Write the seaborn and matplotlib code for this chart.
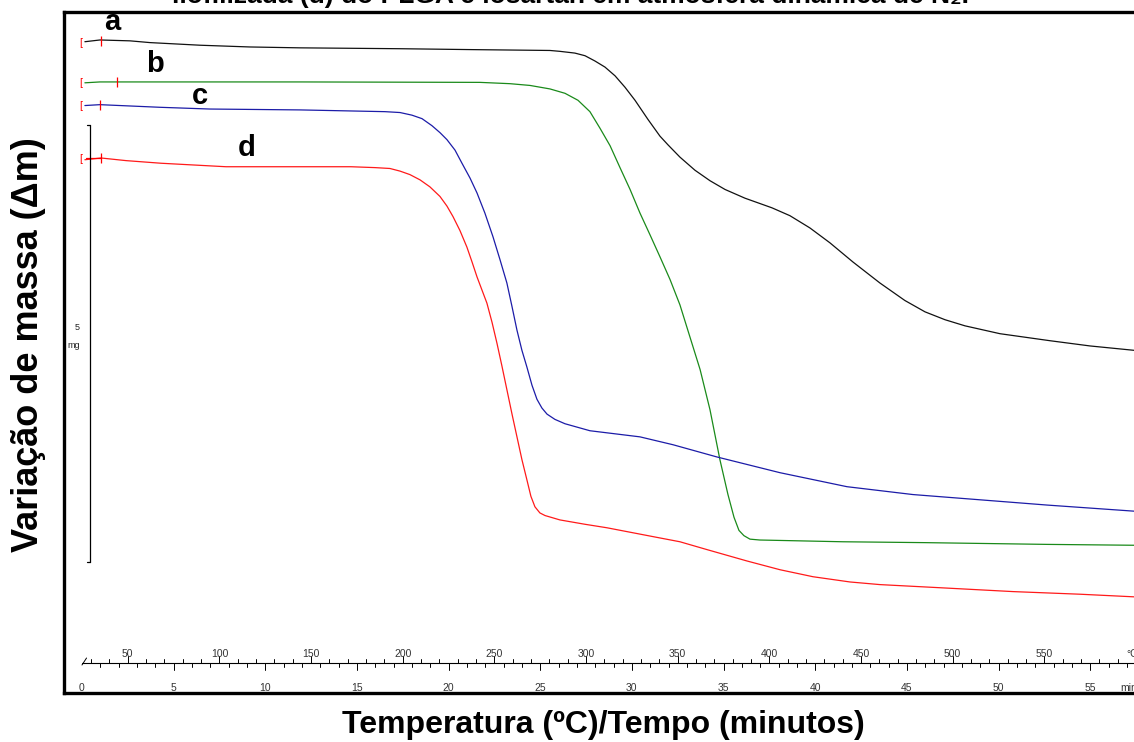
import numpy as np
import pandas as pd
import matplotlib
matplotlib.use("Agg")
import matplotlib.pyplot as plt
import seaborn as sns

# TG traces: furnace temperature (°C) and displayed mass position (mg)
temp_a = [26.6, 34.8, 51.2, 62.1, 89.4, 116.6, 143.9, 198.5, 236.7, 280.3,
          285.7, 293.9, 299.4, 304.8, 310.3, 315.8, 321.2, 326.7, 333.8, 340.3,
          344.7, 351.2, 359.4, 367.6, 375.8, 386.7, 401.4, 411.2, 422.1, 433.0,
          445.6, 460.3, 473.9, 484.9, 495.8, 506.7, 525.8, 553.0, 574.9, 598.9]
mass_a = [7.45, 7.47, 7.46, 7.44, 7.41, 7.39, 7.38, 7.37, 7.36, 7.35,
          7.34, 7.32, 7.29, 7.23, 7.16, 7.06, 6.93, 6.78, 6.56, 6.37,
          6.27, 6.13, 5.98, 5.86, 5.76, 5.66, 5.55, 5.46, 5.32, 5.15,
          4.93, 4.69, 4.49, 4.36, 4.27, 4.20, 4.11, 4.03, 3.97, 3.92]

temp_b = [26.6, 34.8, 51.2, 143.9, 242.1, 258.5, 269.4, 280.3, 288.5, 295.6,
          302.1, 307.6, 313.1, 318.5, 324.0, 329.4, 334.9, 340.3, 345.8, 351.2,
          356.7, 362.2, 367.6, 373.0, 377.4, 380.7, 383.4, 386.1, 389.4, 394.8,
          440.1, 484.9, 551.4, 598.9]
mass_b = [6.98, 6.99, 6.99, 6.99, 6.985, 6.97, 6.95, 6.91, 6.86, 6.78,
          6.65, 6.46, 6.26, 6.01, 5.76, 5.49, 5.24, 4.99, 4.73, 4.44,
          4.07, 3.70, 3.24, 2.67, 2.27, 2.01, 1.86, 1.80, 1.76, 1.75,
          1.73, 1.72, 1.70, 1.69]

temp_c = [26.6, 34.8, 67.5, 94.8, 143.9, 190.3, 198.5, 205.0, 210.5, 215.9,
          220.3, 224.1, 228.5, 232.3, 236.7, 240.5, 244.8, 249.2, 253.0, 256.8,
          259.6, 262.3, 265.0, 267.7, 270.5, 273.2, 275.9, 278.7, 283.0, 288.5,
          302.1, 329.4, 347.4, 371.4, 405.8, 442.3, 478.3, 514.9, 551.4, 598.9]
mass_c = [6.72, 6.73, 6.70, 6.68, 6.67, 6.65, 6.64, 6.61, 6.57, 6.49,
          6.41, 6.33, 6.21, 6.06, 5.89, 5.72, 5.49, 5.22, 4.96, 4.69,
          4.42, 4.15, 3.92, 3.73, 3.52, 3.36, 3.26, 3.19, 3.13, 3.08,
          3.00, 2.93, 2.84, 2.70, 2.52, 2.36, 2.27, 2.21, 2.15, 2.08]

temp_d = [26.6, 35.4, 49.0, 68.1, 103.6, 171.7, 184.8, 193.0, 198.5, 203.9,
          209.4, 214.8, 220.3, 224.1, 227.4, 231.2, 235.0, 237.8, 240.5, 243.2,
          245.9, 248.7, 251.4, 254.1, 256.8, 259.6, 262.3, 265.0, 267.7, 269.9,
          272.1, 274.8, 277.6, 285.7, 299.4, 311.4, 338.7, 351.2, 366.0, 387.8,
          405.8, 423.8, 444.0, 460.3, 496.9, 532.9, 569.4, 598.9]
mass_d = [6.10, 6.12, 6.09, 6.06, 6.02, 6.02, 6.01, 6.00, 5.97, 5.93,
          5.87, 5.79, 5.68, 5.57, 5.45, 5.29, 5.10, 4.93, 4.76, 4.61,
          4.46, 4.24, 4.00, 3.74, 3.47, 3.19, 2.93, 2.67, 2.44, 2.25,
          2.13, 2.06, 2.03, 1.98, 1.93, 1.89, 1.78, 1.73, 1.64, 1.51,
          1.41, 1.33, 1.27, 1.24, 1.20, 1.16, 1.13, 1.10]

curve_names = ["a", "b", "c", "d"]
curve_colors = {"a": "#111111", "b": "#1a8a1a", "c": "#1c1ca8", "d": "#ff1a1a"}
# label anchor (°C, mg) for each trace letter
label_pos = {"a": (41.4, 7.68), "b": (64.8, 7.20), "c": (89.4, 6.83), "d": (115.0, 6.24)}
# start bracket / event tick of each trace (°C, mg)
start_mass = {"a": 7.44, "b": 6.98, "c": 6.72, "d": 6.11}
tick_temp = {"a": 35.4, "b": 44.1, "c": 34.8, "d": 35.4}
tick_mass = {"a": 7.46, "b": 6.99, "c": 6.73, "d": 6.12}

temp_labels = [50, 100, 150, 200, 250, 300, 350, 400, 450, 500, 550]
time_labels = [0, 5, 10, 15, 20, 25, 30, 35, 40, 45, 50, 55]
heating_rate = 10.0   # °C/min
start_temp = 25.0     # °C at t = 0

title_text = "liofilizada (d) do PLGA e losartan em atmosfera dinâmica de N₂."
xlabel_text = "Temperatura (ºC)/Tempo (minutos)"
ylabel_text = "Variação de massa (Δm)"

sns.set_theme(style="white")
plt.rcParams["font.family"] = ["Liberation Sans", "DejaVu Sans"]
plt.rcParams["text.color"] = "black"

W, H = 1134, 742
fig = plt.figure(figsize=(W / 100, H / 100), dpi=100)
ax = fig.add_axes([64 / W, 1 - 693 / H, 1 - 64 / W, (693 - 12) / H])

frames = []
for name, t, m in [("a", temp_a, mass_a), ("b", temp_b, mass_b),
                   ("c", temp_c, mass_c), ("d", temp_d, mass_d)]:
    frames.append(pd.DataFrame({"temp": t, "mass": m, "curve": name}))
df = pd.concat(frames, ignore_index=True)

sns.lineplot(data=df, x="temp", y="mass", hue="curve", palette=curve_colors,
             estimator=None, sort=False, linewidth=0.9, legend=False, ax=ax,
             solid_joinstyle="round")

ax.set_xlim(15.2, 598.9)
ax.set_ylim(0, 7.79)
ax.set_xticks([])
ax.set_yticks([])
ax.set_xlabel("")
ax.set_ylabel("")
for side in ["left", "top", "bottom"]:
    ax.spines[side].set_visible(True)
    ax.spines[side].set_color("black")
    ax.spines[side].set_linewidth(2.4)
ax.spines["right"].set_visible(False)

# trace letters
for name in curve_names:
    x, y = label_pos[name]
    ax.text(x, y, name, fontsize=21, fontweight="bold", color="black",
            ha="center", va="center")

# start brackets and event ticks
for name in curve_names:
    ax.text(24.5, start_mass[name], "[", color="red", fontsize=7.5,
            ha="center", va="center")
    ax.plot([tick_temp[name]], [tick_mass[name]], marker="|", color="red",
            markersize=7, markeredgewidth=0.9)
ax.plot([27.0, 35.4], [6.12, 6.12], color="red", linewidth=0.9)

# 5 mg scale bar
ax.plot([29.4, 29.4], [1.50, 6.50], color="black", linewidth=0.9)
ax.plot([27.5, 29.4], [6.50, 6.50], color="black", linewidth=0.9)
ax.plot([27.5, 29.4], [1.50, 1.50], color="black", linewidth=0.9)
ax.text(22.3, 4.18, "5", fontsize=6.5, color="#222222", ha="center", va="center")
ax.text(20.6, 3.98, "mg", fontsize=6.5, color="#222222", ha="center", va="center")

# combined temperature / time scale
axis_y = 0.343
px = 1 / 87.4   # mg per pixel
ax.plot([start_temp, 620], [axis_y, axis_y], color="black", linewidth=0.8)
ax.plot([start_temp, start_temp + 2.5], [axis_y - 2 * px, axis_y + 5 * px],
        color="black", linewidth=0.7)
for T in np.arange(30, 600, 10):
    L = 7 * px if T % 50 == 0 else 4 * px
    ax.plot([T, T], [axis_y, axis_y + L], color="black", linewidth=0.7)
for tm in range(1, 59):
    T = start_temp + heating_rate * tm
    L = 7 * px if tm % 5 == 0 else 4 * px
    ax.plot([T, T], [axis_y, axis_y - L], color="black", linewidth=0.7)
for T in temp_labels:
    ax.text(T, axis_y + 9 * px, str(T), fontsize=7.5, color="#333333",
            ha="center", va="center")
ax.text(594.5, axis_y + 9 * px, "°C", fontsize=7.5, color="#333333",
        ha="left", va="center", clip_on=False)
for tm in time_labels:
    ax.text(start_temp + heating_rate * tm, axis_y - 25 * px, str(tm), fontsize=7.5,
            color="#333333", ha="center", va="center")
ax.text(591.2, axis_y - 25 * px, "min", fontsize=7.5, color="#333333",
        ha="left", va="center", clip_on=False)

# axis titles
fig.text(603 / W, 1 - 725 / H, xlabel_text, fontsize=23, fontweight="bold",
         color="black", ha="center", va="center")
fig.text(29 / W, 1 - 345 / H, ylabel_text, fontsize=26, fontweight="bold",
         color="black", ha="center", va="center", rotation=90)
fig.text(570 / W, 1 - 3 / H, title_text, fontsize=19, fontweight="bold",
         color="black", ha="center", va="baseline")

fig.savefig("out.png", dpi=100)
